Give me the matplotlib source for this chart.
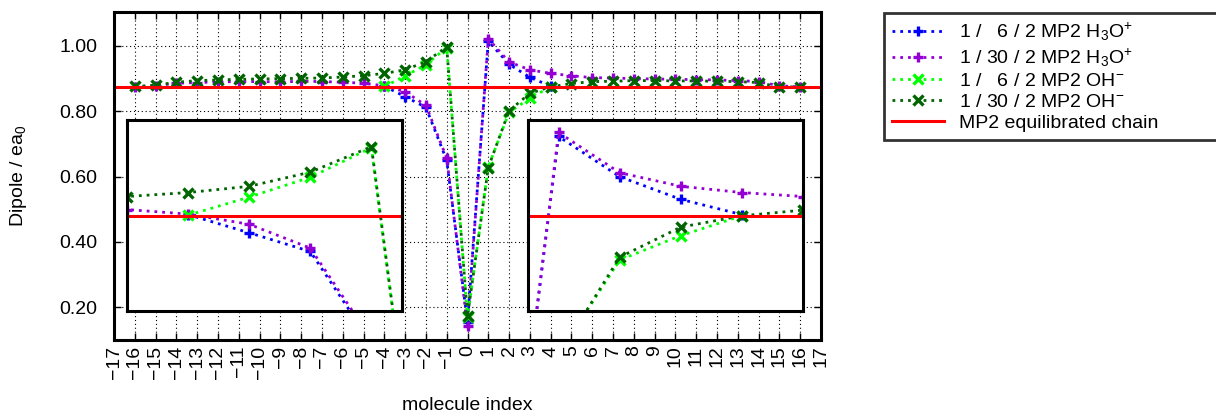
import matplotlib.pyplot as plt

plt.rcParams.update({
    'font.family': ['Liberation Sans', 'DejaVu Sans'],
    'font.size': 14,
    'mathtext.fontset': 'custom',
    'mathtext.rm': 'Liberation Sans',
    'mathtext.it': 'Liberation Sans:italic',
    'mathtext.bf': 'Liberation Sans:bold',
})

# molecule indices
idx_30 = list(range(-16, 17))
idx_6 = list(range(-4, 5))

# dipoles (e a0)
h3o_6 = [0.877, 0.845, 0.812, 0.650, 0.155, 1.015, 0.944, 0.904, 0.877]
h3o_30 = [0.875, 0.878, 0.886, 0.888, 0.890, 0.891, 0.891, 0.890, 0.892,
          0.891, 0.889, 0.886, 0.878, 0.860, 0.818, 0.657, 0.143, 1.022,
          0.951, 0.927, 0.916, 0.909, 0.903, 0.902, 0.900, 0.899, 0.898,
          0.897, 0.896, 0.894, 0.891, 0.878, 0.875]
oh_6 = [0.876, 0.908, 0.943, 0.995, 0.170, 0.630, 0.797, 0.840, 0.875]
oh_30 = [0.876, 0.880, 0.889, 0.894, 0.896, 0.898, 0.899, 0.900, 0.901,
         0.902, 0.905, 0.909, 0.916, 0.927, 0.952, 0.997, 0.173, 0.628,
         0.802, 0.855, 0.875, 0.885, 0.891, 0.892, 0.894, 0.894, 0.893,
         0.893, 0.892, 0.891, 0.888, 0.874, 0.875]
mp2_chain = 0.875

labels = ['1 /   6 / 2 MP2 H$_3$O$^{+}$', '1 / 30 / 2 MP2 H$_3$O$^{+}$',
          '1 /   6 / 2 MP2 OH$^{-}$', '1 / 30 / 2 MP2 OH$^{-}$',
          'MP2 equilibrated chain']
xtick_vals = list(range(-17, 18))
ytick_vals = [0.2, 0.4, 0.6, 0.8, 1.0]

SERIES = [
    (idx_6, h3o_6, '#0000ff', '+'),
    (idx_30, h3o_30, '#9400d3', '+'),
    (idx_6, oh_6, '#00ff00', 'x'),
    (idx_30, oh_30, '#006400', 'x'),
]
DOTS = (0, (1, 1.8))


def draw(ax):
    handles = []
    for (xs, ys, c, m), lab in zip(SERIES, labels):
        h, = ax.plot(xs, ys, color=c, lw=2.0, ls=DOTS, marker=m,
                     ms=7, mew=2.4, label=lab)
        handles.append(h)
    h = ax.axhline(mp2_chain, color='#ff0000', lw=2.2, label=labels[-1])
    handles.append(h)
    return handles


fig = plt.figure(figsize=(12.16, 4.16), dpi=100)
W, H = 1216, 416

ax = fig.add_axes([114 / W, 1 - 340 / H, 707 / W, 328 / H])
handles = draw(ax)
ax.set_xlim(-17, 17)
ax.set_ylim(0.1, 1.104)
ax.set_xticks(xtick_vals)
ax.set_xticklabels([str(v).replace('-', '\u2212') for v in xtick_vals],
                   rotation=90)
ax.set_yticks(ytick_vals)
ax.set_yticklabels([f'{v:.2f}' for v in ytick_vals])
ax.tick_params(direction='in', length=5, width=1, top=True, right=True)
ax.tick_params(axis='y', pad=12)
ax.tick_params(axis='x', pad=4)
ax.grid(True, color='black', lw=0.8, ls=(0, (1, 2.5)))
for sp in ax.spines.values():
    sp.set_linewidth(2.2)
ax.set_xlabel('molecule index')
ax.xaxis.set_label_coords(0.5, -0.175)
ax.set_ylabel('Dipole / ea$_0$')
ax.yaxis.set_label_coords(-0.12, 0.5)

# zoomed insets around the ion
inset_ylim = (0.707, 1.044)
for left, xlim in [(127, (-5, -0.5)), (528, (0.5, 5))]:
    ins = fig.add_axes([left / W, 1 - 311 / H, 275 / W, 191 / H], zorder=5)
    ins.set_facecolor('white')
    draw(ins)
    ins.set_xlim(*xlim)
    ins.set_ylim(*inset_ylim)
    ins.set_xticks([])
    ins.set_yticks([])
    for sp in ins.spines.values():
        sp.set_linewidth(2.2)

# legend box runs off the right edge, as in the original
leg = fig.legend(handles=handles, loc='upper left', mode='expand',
                 bbox_to_anchor=(884 / W, 1 - 13 / H, 420 / W, 0.0),
                 borderaxespad=0, numpoints=1, handlelength=2.7,
                 handletextpad=0.75, labelspacing=0.18, borderpad=0.4,
                 fancybox=False, fontsize=14)
leg.get_frame().set_edgecolor('black')
leg.get_frame().set_linewidth(2)

fig.savefig('out.png', dpi=100)
